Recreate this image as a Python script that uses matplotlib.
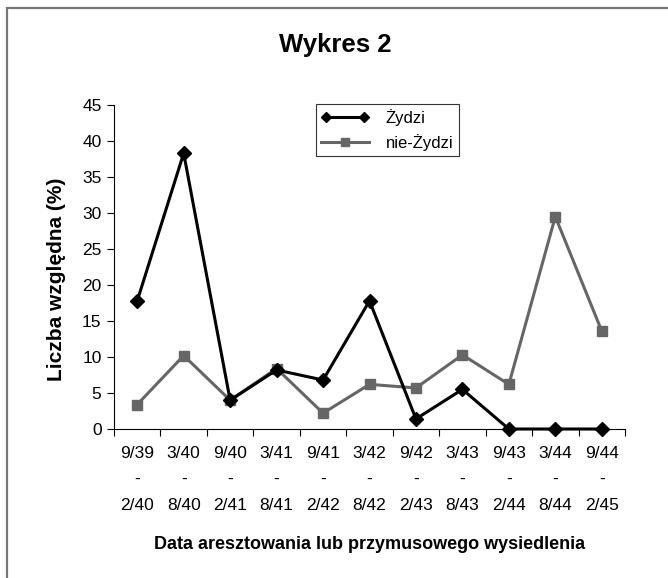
import matplotlib
matplotlib.use("Agg")
import matplotlib.pyplot as plt
from matplotlib.patches import Rectangle
from matplotlib.legend_handler import HandlerLine2D

plt.rcParams["font.family"] = ["Liberation Sans", "DejaVu Sans"]

# data
periods_from = ["9/39", "3/40", "9/40", "3/41", "9/41", "3/42", "9/42", "3/43", "9/43", "3/44", "9/44"]
periods_to = ["2/40", "8/40", "2/41", "8/41", "2/42", "8/42", "2/43", "8/43", "2/44", "8/44", "2/45"]
zydzi = [17.8, 38.3, 4.0, 8.2, 6.8, 17.8, 1.4, 5.5, 0.0, 0.0, 0.0]
nie_zydzi = [3.4, 10.2, 4.0, 8.4, 2.2, 6.2, 5.7, 10.3, 6.2, 29.5, 13.6]

W, H = 668, 578
fig = plt.figure(figsize=(W / 100, H / 100), dpi=100)
ax = fig.add_axes([114 / W, 1 - 429 / H, 511 / W, 324 / H])

# outer chart border (only top/left visible in the crop)
fig.patches.append(Rectangle((7 / W, -0.1), 1.2, 1 - 8 / H + 0.1,
                             transform=fig.transFigure, fill=False,
                             edgecolor="#777777", linewidth=1.6))

xs = [i + 0.5 for i in range(len(zydzi))]
l1, = ax.plot(xs, zydzi, color="black", linewidth=2.2, marker="D", markersize=7,
              label="Żydzi", clip_on=False, zorder=4)
l2, = ax.plot(xs, nie_zydzi, color="#666666", linewidth=2.2, marker="s", markersize=7,
              label="nie-Żydzi", clip_on=False, zorder=3)

ax.set_xlim(0, len(zydzi))
ax.set_ylim(0, 45)
ax.set_yticks(range(0, 46, 5))
ax.tick_params(axis="y", direction="out", length=5, width=0.8, labelsize=12.5, pad=4)

ax.set_xticks(range(len(zydzi) + 1))
ax.set_xticklabels([])
ax.tick_params(axis="x", which="major", direction="out", length=5, width=0.8)
ax.set_xticks(xs, minor=True)
ax.set_xticklabels([f"{a}\n-\n{b}" for a, b in zip(periods_from, periods_to)],
                   minor=True, linespacing=1.95)
ax.tick_params(axis="x", which="minor", length=0, labelsize=12.5, pad=12)

for s in ("top", "right"):
    ax.spines[s].set_visible(False)
for s in ("left", "bottom"):
    ax.spines[s].set_linewidth(0.8)

ax.set_ylabel("Liczba względna (%)", fontsize=15, fontweight="bold")
ax.yaxis.set_label_coords(-(114 - 66) / 511, (429 - 279) / 324)
ax.set_xlabel("Data aresztowania lub przymusowego wysiedlenia",
              fontsize=13, fontweight="bold", labelpad=16)
fig.text(335 / W, 1 - 45 / H, "Wykres 2", ha="center", va="center",
         fontsize=18.5, fontweight="bold")

leg = ax.legend([l1, l2], ["Żydzi", "nie-Żydzi"], loc="upper left",
                bbox_to_anchor=((316 - 114) / 511, 1 + (105 - 104) / 324),
                borderaxespad=0, frameon=True, fancybox=False, edgecolor="black",
                fontsize=12, handlelength=2.9, borderpad=0.3, labelspacing=0.5,
                handletextpad=1.0,
                handler_map={l1: HandlerLine2D(numpoints=2),
                             l2: HandlerLine2D(numpoints=1)})
leg.get_frame().set_linewidth(0.8)
for h in leg.legend_handles:
    h.set_markersize(5.5)

fig.savefig("out.png", dpi=100)
